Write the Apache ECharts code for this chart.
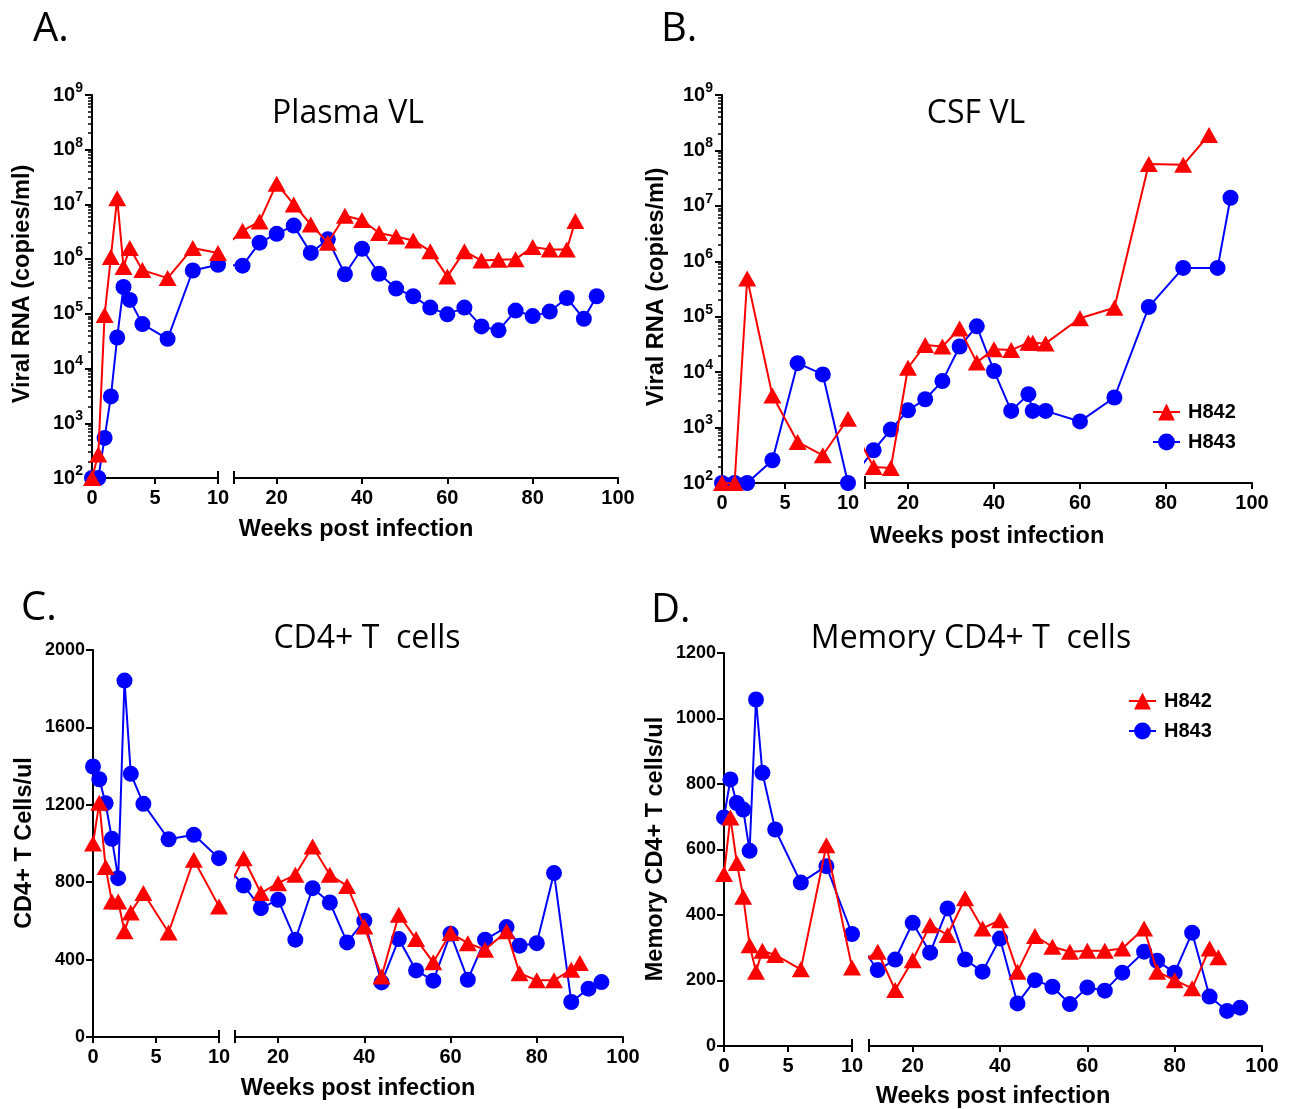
<!DOCTYPE html>
<html><head><meta charset="utf-8">
<script src="https://cdn.jsdelivr.net/npm/echarts@6/dist/echarts.min.js"></script>
<style>html,body{margin:0;padding:0;background:#fff}#c{width:1292px;height:1109px}</style>
</head><body><div id="c"></div>
<script>
// ================= DATA =================
// weeks post infection
const wkEarly = [0, 0.5, 1, 1.5, 2, 2.5, 3, 4, 6, 8, 10];
const wkLatePlasma842 = [12,16,20,24,28,32,36,40,44,48,52,56,60,64,68,72,76,80,84,88,90];
const wkLatePlasma843 = [12,16,20,24,28,32,36,40,44,48,52,56,60,64,68,72,76,80,84,88,92,95];
const wkEarlyCSF = [0, 1, 2, 4, 6, 8, 10];
const wkLateCSF842 = [12,16,20,24,28,32,36,40,44,48,49,52,60,68,76,84,90];
const wkLateCSF843 = [12,16,20,24,28,32,36,40,44,48,49,52,60,68,76,84,92,95];
const wkLateCD4_842 = [12,16,20,24,28,32,36,40,44,48,52,56,60,64,68,73,76,80,84,88,90];
const wkLateCD4_843 = [12,16,20,24,28,32,36,40,44,48,52,56,60,64,68,73,76,80,84,88,92,95];

// A. Plasma VL (copies/ml)
const plasmaEarly842 = [100, 270, 95000, 1.1e6, 1.3e7, 7.2e5, 1.6e6, 6.3e5, 4.5e5, 1.6e6, 1.3e6];
const plasmaEarly843 = [100, 100, 540, 3100, 37000, 3.1e5, 1.8e5, 65000, 35000, 6.2e5, 7.9e5];
const plasmaLate842 = [3.3e6,4.9e6,2.4e7,1.0e7,4.3e6,2.0e6,6.2e6,5.2e6,3.0e6,2.6e6,2.2e6,1.4e6,4.8e5,1.4e6,9.4e5,9.7e5,1.0e6,1.66e6,1.5e6,1.5e6,5.0e6];
const plasmaLate843 = [7.6e5,2.0e6,2.9e6,4.1e6,1.3e6,2.3e6,5.3e5,1.55e6,5.4e5,2.9e5,2.1e5,1.3e5,9.8e4,1.3e5,5.9e4,5.0e4,1.15e5,9.1e4,1.1e5,1.95e5,8.1e4,2.1e5];

// B. CSF VL (copies/ml)
const csfEarly842 = [100, 100, 4.9e5, 3800, 550, 316, 1450];
const csfEarly843 = [100, 100, 100, 257, 14500, 9100, 100];
const csfLate842 = [195,186,1.2e4,3.1e4,2.9e4,6.1e4,1.5e4,2.6e4,2.5e4,3.4e4,3.4e4,3.3e4,9.4e4,1.45e5,5.7e7,5.5e7,1.9e8];
const csfLate843 = [390,920,2050,3240,6900,2.9e4,6.7e4,1.05e4,2000,4000,2000,2000,1290,3490,1.5e5,7.6e5,7.6e5,1.4e7];

// C. CD4+ T cells/ul
const cd4Early842 = [1000,1210,878,700,700,546,644,744,540,916,675];
const cd4Early843 = [1398,1332,1208,1024,821,1842,1360,1205,1022,1045,924];
const cd4Late842 = [924,744,795,838,985,838,781,571,313,632,506,386,537,485,451,546,330,293,293,348,382];
const cd4Late843 = [783,666,709,503,769,695,489,601,282,506,344,291,534,296,503,568,472,485,847,181,250,284];

// D. Memory CD4+ T cells/ul
const memEarly842 = [525,698,559,456,308,227,291,278,234,613,240];
const memEarly843 = [698,814,742,722,596,1058,834,661,499,549,342];
const memLate842 = [288,171,262,369,339,451,359,384,227,336,303,288,291,291,298,359,227,201,176,298,271];
const memLate843 = [232,264,376,285,420,264,227,328,130,201,181,128,179,169,224,288,260,224,346,151,107,117];

// tick labels
const xTicksEarly = [0, 5, 10];
const xTicksLate = [20, 40, 60, 80, 100];
const logDecades = [2, 3, 4, 5, 6, 7, 8, 9];
const cd4Ticks = [0, 400, 800, 1200, 1600, 2000];
const memTicks = [0, 200, 400, 600, 800, 1000, 1200];

const seriesNames = ['H842', 'H843'];
const panelLetters = ['A.', 'B.', 'C.', 'D.'];
const panelTitles = ['Plasma VL', 'CSF VL', 'CD4+ T  cells', 'Memory CD4+ T  cells'];
const yTitles = ['Viral RNA (copies/ml)', 'Viral RNA (copies/ml)', 'CD4+ T Cells/ul', 'Memory CD4+ T cells/ul'];
const xTitle = 'Weeks post infection';

// ================= LAYOUT / STYLE =================
const RED = '#ff0000', BLUE = '#0000ff';
const SANS = '"Liberation Sans", Arial, sans-serif';
const TITLEF = '"Open Sans", sans-serif';

const panels = [
  { log: true, ticks: logDecades, L: [92, 95, 126, 383], R: [234, 95, 384, 383],
    wE842: wkEarly, e842: plasmaEarly842, wE843: wkEarly, e843: plasmaEarly843,
    wL842: wkLatePlasma842, l842: plasmaLate842, wL843: wkLatePlasma843, l843: plasmaLate843 },
  { log: true, ticks: logDecades, L: [722, 95, 126, 388], R: [865, 95, 387, 388],
    wE842: wkEarlyCSF, e842: csfEarly842, wE843: wkEarlyCSF, e843: csfEarly843,
    wL842: wkLateCSF842, l842: csfLate842, wL843: wkLateCSF843, l843: csfLate843 },
  { log: false, ticks: cd4Ticks, L: [93, 650, 126, 387], R: [235, 650, 388, 387],
    wE842: wkEarly, e842: cd4Early842, wE843: wkEarly, e843: cd4Early843,
    wL842: wkLateCD4_842, l842: cd4Late842, wL843: wkLateCD4_843, l843: cd4Late843 },
  { log: false, ticks: memTicks, L: [724, 653, 128, 393], R: [869, 653, 393, 393],
    wE842: wkEarly, e842: memEarly842, wE843: wkEarly, e843: memEarly843,
    wL842: wkLateCD4_842, l842: memLate842, wL843: wkLateCD4_843, l843: memLate843 }
];

const axisLineStyle = { color: '#000', width: 2 };
const tickLbl = { color: '#000', fontFamily: 'Liberation Sans', fontWeight: 'bold', fontSize: 20 };

const grid = [], xAxis = [], yAxis = [], series = [];

panels.forEach(p => {
  const gL = grid.length; grid.push({ left: p.L[0], top: p.L[1], width: p.L[2], height: p.L[3] });
  const gR = grid.length; grid.push({ left: p.R[0], top: p.R[1], width: p.R[2], height: p.R[3] });
  const tf = p.log ? (v => Math.log10(v)) : (v => v);
  const ymin = p.ticks[0], ymax = p.ticks[p.ticks.length - 1], yint = p.ticks[1] - p.ticks[0];

  const xL = xAxis.length;
  xAxis.push({ type: 'value', gridIndex: gL, position: 'bottom', min: 0, max: 10, interval: 5,
    axisLine: { show: true, onZero: false, lineStyle: axisLineStyle },
    axisTick: { show: true, length: 6, lineStyle: { color: '#000', width: 2 } },
    axisLabel: Object.assign({ margin: 10, customValues: xTicksEarly, formatter: v => String(v) }, tickLbl),
    splitLine: { show: false } });
  const xR = xAxis.length;
  xAxis.push({ type: 'value', gridIndex: gR, position: 'bottom', min: 10, max: 100, interval: 10,
    axisLine: { show: true, onZero: false, lineStyle: axisLineStyle },
    axisTick: { show: true, length: 6, customValues: [10].concat(xTicksLate), lineStyle: { color: '#000', width: 2 } },
    axisLabel: Object.assign({ margin: 10, customValues: xTicksLate, formatter: v => String(v) }, tickLbl),
    splitLine: { show: false } });
  // break caps (tick crossing the axis line at the break)
  xAxis.push({ type: 'value', gridIndex: gL, position: 'bottom', min: 0, max: 10, interval: 5,
    axisLine: { show: false, onZero: false }, axisLabel: { show: false }, splitLine: { show: false },
    axisTick: { show: true, inside: true, length: 7, customValues: [10], lineStyle: { color: '#000', width: 2 } } });
  xAxis.push({ type: 'value', gridIndex: gR, position: 'bottom', min: 10, max: 100, interval: 10,
    axisLine: { show: false, onZero: false }, axisLabel: { show: false }, splitLine: { show: false },
    axisTick: { show: true, inside: true, length: 7, customValues: [10], lineStyle: { color: '#000', width: 2 } } });

  const yL = yAxis.length;
  yAxis.push({ type: 'value', gridIndex: gL, position: 'left', min: ymin, max: ymax, interval: yint,
    axisLine: { show: true, onZero: false, lineStyle: axisLineStyle },
    axisTick: { show: true, length: 7, lineStyle: { color: '#000', width: 2 } },
    axisLabel: p.log ? {
        margin: 9, formatter: v => '{b|10}{s|' + Math.round(v) + '}',
        rich: { b: { fontSize: 20, fontWeight: 'bold', fontFamily: 'Liberation Sans', color: '#000', lineHeight: 28, verticalAlign: 'middle' },
                s: { fontSize: 14, fontWeight: 'bold', fontFamily: 'Liberation Sans', color: '#000', verticalAlign: 'top' } } }
      : Object.assign({ margin: 8, formatter: v => String(v) }, tickLbl, { fontSize: 18 }),
    splitLine: { show: false } });
  if (p.log) {
    const minor = [];
    for (let d = ymin; d < ymax; d++) for (let k = 2; k <= 9; k++) minor.push(d + Math.log10(k));
    yAxis.push({ type: 'value', gridIndex: gL, min: ymin, max: ymax, interval: yint, position: 'left', offset: 0,
      axisLine: { show: false, onZero: false }, axisLabel: { show: false }, splitLine: { show: false },
      axisTick: { show: true, length: 4, customValues: minor, lineStyle: { color: '#000', width: 1.5 } } });
  }
  const yR = yAxis.length;
  yAxis.push({ type: 'value', gridIndex: gR, min: ymin, max: ymax, interval: yint, show: false });

  // the broken axis: the connecting line between segments is drawn and clipped in the gap
  const lScale = p.L[2] / 10, rScale = p.R[2] / 90, gap = p.R[0] - (p.L[0] + p.L[2]);
  const toRight = w => 10 - ((10 - w) * lScale + gap) / rScale;
  const toLeft = w => 10 + (gap + (w - 10) * rScale) / lScale;

  const mk = (name, color, symbol, size, wE, vE, wL, vL) => {
    const left = wE.map((w, i) => [w, tf(vE[i])]);
    left.push({ value: [toLeft(wL[0]), tf(vL[0])], symbol: 'none' });
    const right = [{ value: [toRight(wE[wE.length - 1]), tf(vE[vE.length - 1])], symbol: 'none' }]
      .concat(wL.map((w, i) => [w, tf(vL[i])]));
    const base = { type: 'line', name, symbol, symbolSize: size, showAllSymbol: true, clip: true,
      lineStyle: { color, width: 2 }, itemStyle: { color }, animation: false, z: color === RED ? 4 : 3 };
    series.push(Object.assign({}, base, { xAxisIndex: xL, yAxisIndex: yL, data: left }));
    series.push(Object.assign({}, base, { xAxisIndex: xR, yAxisIndex: yR, data: right }));
  };
  mk(seriesNames[1], BLUE, 'circle', 16, p.wE843, p.e843, p.wL843, p.l843);
  mk(seriesNames[0], RED, 'triangle', [18, 16], p.wE842, p.e842, p.wL842, p.l842);
});

function T(text, x, y, size, weight, family, align, rot) {
  return { type: 'text', x, y, rotation: rot || 0, z: 100,
    style: { text, fill: '#000', font: weight + ' ' + size + 'px ' + family,
      textAlign: align || 'center', align: align || 'center', textVerticalAlign: 'middle', verticalAlign: 'middle' } };
}

const AX = 23.5;
const graphic = [
  T(panelLetters[0], 33, 30, 40, 'normal', TITLEF, 'left'),
  T(panelLetters[1], 661, 30, 40, 'normal', TITLEF, 'left'),
  T(panelLetters[2], 21, 609, 40, 'normal', TITLEF, 'left'),
  T(panelLetters[3], 651, 611, 40, 'normal', TITLEF, 'left'),
  T(panelTitles[0], 348, 114, 32, 'normal', TITLEF),
  T(panelTitles[1], 976, 114, 32, 'normal', TITLEF),
  T(panelTitles[2], 367, 639, 32, 'normal', TITLEF),
  T(panelTitles[3], 971, 639, 32, 'normal', TITLEF),
  T(yTitles[0], 23, 284, AX, 'bold', SANS, 'center', Math.PI / 2),
  T(yTitles[1], 657, 287, AX, 'bold', SANS, 'center', Math.PI / 2),
  T(yTitles[2], 25, 843, AX, 'bold', SANS, 'center', Math.PI / 2),
  T(yTitles[3], 656, 849, AX, 'bold', SANS, 'center', Math.PI / 2),
  T(xTitle, 356, 530, AX, 'bold', SANS),
  T(xTitle, 987, 537, AX, 'bold', SANS),
  T(xTitle, 358, 1089, AX, 'bold', SANS),
  T(xTitle, 993, 1097, AX, 'bold', SANS)
];

const legendBase = { orient: 'vertical', data: seriesNames, itemWidth: 27, itemHeight: 21, itemGap: 10,
  selectedMode: false, textStyle: { color: '#000', fontFamily: 'Liberation Sans', fontWeight: 'bold', fontSize: 20, padding: [0, 0, 0, 3] } };

const chart = echarts.init(document.getElementById('c'), null, { renderer: 'canvas' });
chart.setOption({
  backgroundColor: '#fff',
  animation: false,
  grid, xAxis, yAxis, series, graphic,
  legend: [
    Object.assign({ left: 1147, top: 397 }, legendBase),
    Object.assign({ left: 1123, top: 686 }, legendBase)
  ]
});
</script></body></html>
